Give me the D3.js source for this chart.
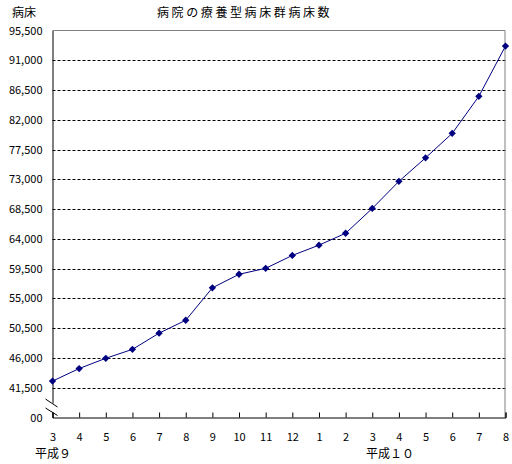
<!DOCTYPE html>
<html><head><meta charset="utf-8">
<script src="https://cdn.jsdelivr.net/npm/d3@7"></script>
<style>body{margin:0;background:#fff}svg{display:block}text{font-family:"Noto Sans CJK JP","Noto Sans",sans-serif;fill:#000}</style>
</head><body><svg id="c" width="512" height="464"></svg>
<script>
const months = ["3","4","5","6","7","8","9","10","11","12","1","2","3","4","5","6","7","8"];
const beds = [42500,44400,45950,47300,49750,51700,56600,58650,59550,61500,63050,64850,68600,72700,76250,79950,85550,93150];
const yTicks = [37000,41500,46000,50500,55000,59500,64000,68500,73000,77500,82000,86500,91000,95500];
const yTickLabels = ["00","41,500","46,000","50,500","55,000","59,500","64,000","68,500","73,000","77,500","82,000","86,500","91,000","95,500"];
const title = "病院の療養型病床群病床数";
const yTitle = "病床";
const eraLabels = [{text:"平成９", x:35},{text:"平成１０", x:366}];

const svg = d3.select("#c");
const L = 52.5, R = 505.5, T = 30.5, B = 417.5;
const x = d3.scaleLinear().domain([0, months.length-1]).range([L, R]);
const y = d3.scaleLinear().domain([37000, 95500]).range([B, T]);

// gridlines
svg.append("g").selectAll("line").data(yTicks.slice(1, -1)).join("line")
  .attr("x1", L).attr("x2", R).attr("y1", d=>Math.round(y(d))+0.5).attr("y2", d=>Math.round(y(d))+0.5)
  .attr("stroke","#000").attr("stroke-dasharray","3,2").attr("stroke-width",1);

// top & right border
svg.append("path").attr("d",`M${L},${T}H${R-0.5}V${B}`).attr("fill","none").attr("stroke","#808080");

// axes
const yAxis = d3.axisLeft(y).tickValues(yTicks).tickSize(0).tickPadding(10).tickFormat((d,i)=>yTickLabels[i]);
const gy = svg.append("g").attr("transform",`translate(${L},0)`).call(yAxis);
gy.select(".domain").attr("stroke","#000");
gy.selectAll("text").style("font-size","11px").attr("fill","#000");

const xAxis = d3.axisBottom(x).tickValues(d3.range(months.length)).tickSize(-5).tickPadding(16).tickFormat(i=>months[i]);
const gx = svg.append("g").attr("transform",`translate(0,${B})`).call(xAxis);
gx.select(".domain").attr("stroke","#000");
gx.selectAll("line").attr("stroke","#000");
gx.selectAll("text").style("font-size","11px").attr("fill","#000");

// axis break
svg.append("polygon").attr("points",`${L-6},399 ${L+5},406 ${L+5},415 ${L-6},408`).attr("fill","#fff");
svg.append("line").attr("x1",L-7).attr("y1",399).attr("x2",L+5).attr("y2",407).attr("stroke","#000");
svg.append("line").attr("x1",L-7).attr("y1",408).attr("x2",L+5).attr("y2",415.5).attr("stroke","#000");

// line
svg.append("path").datum(beds)
  .attr("d", d3.line().x((d,i)=>x(i)).y(d=>y(d)))
  .attr("fill","none").attr("stroke","#000080").attr("stroke-width",1);
svg.append("g").selectAll("path").data(beds).join("path")
  .attr("d", d3.symbol().type(d3.symbolDiamond2).size(34))
  .attr("transform",(d,i)=>`translate(${x(i)},${y(d)})`)
  .attr("fill","#000080");

// titles
svg.append("text").attr("x",12).attr("y",17).style("font-size","12px").text(yTitle);
svg.append("text").attr("x",157).attr("y",17).style("font-size","12px").style("letter-spacing","2.6px").text(title);
svg.selectAll(".era").data(eraLabels).join("text").attr("class","era")
  .attr("x",d=>d.x).attr("y",458).style("font-size","12px").text(d=>d.text);
</script></body></html>
